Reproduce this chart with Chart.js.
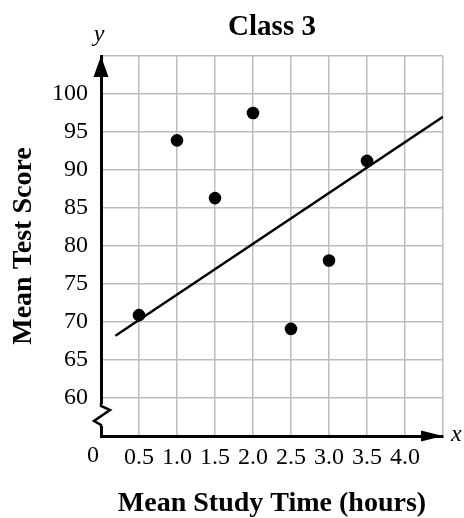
<!DOCTYPE html>
<html>
<head>
<meta charset="utf-8">
<script src="https://cdn.jsdelivr.net/npm/chart.js@4.4.0/dist/chart.umd.min.js"></script>
<style>
  body { margin: 0; background: #fff; }
  canvas { display: block; }
</style>
</head>
<body>
<canvas id="grafico" width="464" height="518"></canvas>
<script>
// study time (hours) and mean test score for each point
const horas = [0.5, 1.0, 1.5, 2.0, 2.5, 3.0, 3.5];
const notas = [70.9, 93.9, 86.3, 97.5, 69.1, 78.1, 91.2];

// line of best fit, two ends
const linhaX = [0.19, 4.5];
const linhaY = [68.2, 97.0];

// tick labels shown on the axes
const rotulosX = ['0.5', '1.0', '1.5', '2.0', '2.5', '3.0', '3.5', '4.0'];
const rotulosY = ['60', '65', '70', '75', '80', '85', '90', '95', '100'];

const serif = '"Liberation Serif", "Times New Roman", serif';

window.onload = function(){
    const ctx = document.getElementById('grafico');

    // arrows, axis break and the little letters
    const extras = {
        id: 'extras',
        afterDraw(chart){
            const c = chart.ctx;
            const a = chart.chartArea;
            c.save();
            c.fillStyle = '#000';
            c.strokeStyle = '#000';

            // y arrow
            c.beginPath();
            c.moveTo(a.left, a.top);
            c.lineTo(a.left - 7.5, a.top + 21);
            c.lineTo(a.left + 7.5, a.top + 21);
            c.closePath();
            c.fill();

            // x arrow
            c.beginPath();
            c.moveTo(a.right, a.bottom);
            c.lineTo(a.right - 22, a.bottom - 5.5);
            c.lineTo(a.right - 22, a.bottom + 5.5);
            c.closePath();
            c.fill();

            // axis break on y
            c.fillStyle = '#fff';
            c.fillRect(a.left - 3, a.bottom - 32, 6, 22);
            c.lineWidth = 2.5;
            c.lineJoin = 'miter';
            c.beginPath();
            c.moveTo(a.left, a.bottom - 33);
            c.lineTo(a.left, a.bottom - 30);
            c.lineTo(a.left + 9, a.bottom - 26);
            c.lineTo(a.left - 7, a.bottom - 15);
            c.lineTo(a.left, a.bottom - 11);
            c.lineTo(a.left, a.bottom - 9);
            c.stroke();

            c.fillStyle = '#000';
            c.font = '24px ' + serif;
            c.textAlign = 'center';
            c.textBaseline = 'alphabetic';
            c.fillText('0', a.left - 8, a.bottom + 26);

            c.font = 'italic 24px ' + serif;
            c.fillText('y', a.left - 2, a.top - 15);
            c.textAlign = 'left';
            c.fillText('x', a.right + 8, a.bottom + 5);
            c.restore();
        }
    };

    new Chart(ctx, {
        type: 'scatter',
        data: {
            datasets: [
                {
                    label: 'Class 3',
                    data: horas.map((h, i) => ({x: h, y: notas[i]})),
                    backgroundColor: '#000',
                    borderWidth: 0,
                    pointRadius: 6.3
                },
                {
                    type: 'line',
                    label: 'ajuste',
                    data: linhaX.map((h, i) => ({x: h, y: linhaY[i]})),
                    borderColor: '#000',
                    borderWidth: 2.5,
                    pointRadius: 0,
                    fill: false
                }
            ]
        },
        options: {
            responsive: false,
            animation: false,
            layout: {
                padding: {top: 0, left: 0, right: 21, bottom: 0}
            },
            plugins: {
                legend: { display: false },
                tooltip: { enabled: false },
                title: {
                    display: true,
                    fullSize: false, // centre over the plot, not the canvas
                    text: 'Class 3',
                    color: '#000',
                    font: { family: serif, size: 29, weight: 'bold', lineHeight: 1 },
                    padding: { top: 13, bottom: 14 }
                }
            },
            scales: {
                x: {
                    type: 'linear',
                    min: 0,
                    max: 4.5,
                    afterFit: function(scale){ scale.height = 82; },
                    ticks: {
                        stepSize: 0.5,
                        autoSkip: false,
                        maxRotation: 0,
                        padding: 10,
                        color: '#000',
                        font: { family: serif, size: 24, lineHeight: 1 },
                        callback: function(v){
                            const i = Math.round(v / 0.5) - 1;
                            return rotulosX[i] !== undefined ? rotulosX[i] : '';
                        }
                    },
                    grid: { color: '#bdbdbd', lineWidth: 1.5, drawTicks: false },
                    border: { display: true, color: '#000', width: 3 },
                    title: {
                        display: true,
                        text: 'Mean Study Time (hours)',
                        color: '#000',
                        font: { family: serif, size: 28, weight: 'bold', lineHeight: 1 },
                        padding: { top: 0, bottom: 0 }
                    }
                },
                y: {
                    type: 'linear',
                    min: 55,
                    max: 105,
                    afterFit: function(scale){ scale.width = 101; },
                    ticks: {
                        stepSize: 5,
                        padding: 13,
                        color: '#000',
                        font: { family: serif, size: 24, lineHeight: 1 },
                        callback: function(v){
                            const i = Math.round((v - 60) / 5);
                            return rotulosY[i] !== undefined ? rotulosY[i] : '';
                        }
                    },
                    grid: { color: '#bdbdbd', lineWidth: 1.5, drawTicks: false },
                    border: { display: true, color: '#000', width: 3 },
                    title: {
                        display: true,
                        text: 'Mean Test Score',
                        color: '#000',
                        font: { family: serif, size: 28, weight: 'bold', lineHeight: 1 },
                        padding: { top: 10, bottom: 0 }
                    }
                }
            }
        },
        plugins: [extras]
    });
}
</script>
</body>
</html>
